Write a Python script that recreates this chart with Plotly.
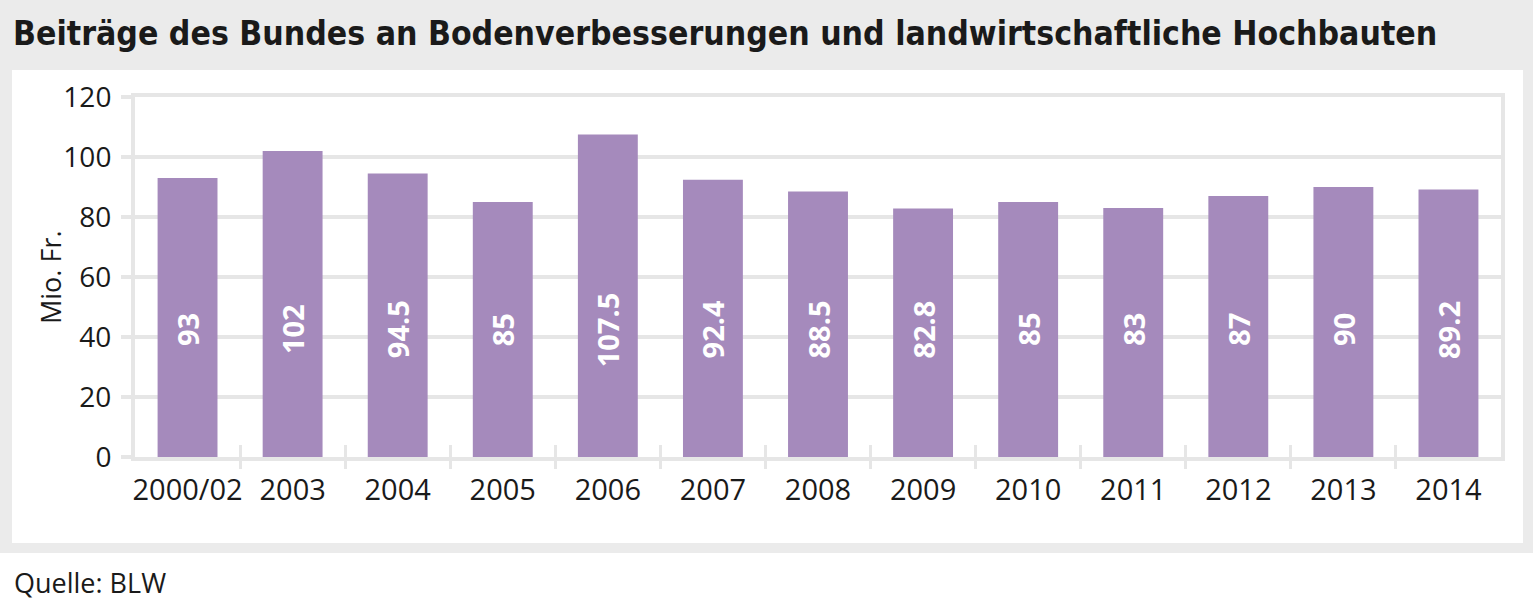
import plotly.graph_objects as go

# ---- data ----
categories = ["2000/02", "2003", "2004", "2005", "2006", "2007", "2008",
              "2009", "2010", "2011", "2012", "2013", "2014"]
values = [93, 102, 94.5, 85, 107.5, 92.4, 88.5, 82.8, 85, 83, 87, 90, 89.2]
value_labels = ["93", "102", "94.5", "85", "107.5", "92.4", "88.5",
                "82.8", "85", "83", "87", "90", "89.2"]
y_ticks = [0, 20, 40, 60, 80, 100, 120]

title_text = "Beiträge des Bundes an Bodenverbesserungen und landwirtschaftliche Hochbauten"
y_title = "Mio. Fr."
source_text = "Quelle: BLW"

# ---- style / layout constants ----
W, H = 1535, 608
PL, PR, PT, PB = 135, 1501, 97, 457  # plot area in pixels
BAR_COLOR = "#a58abc"
GRID = "#e6e6e6"
PANEL = "#ebebeb"
TXT = "#1a1a1a"
FONT = "Open Sans, Noto Sans, sans-serif"
TITLE_FONT = "DejaVu Sans Condensed, Liberation Sans Narrow, DejaVu Sans, sans-serif"
LABEL_Y = 42.5


def px_x(p):
    return (p - PL) / (PR - PL)


def px_y(p):
    return (PB - p) / (PB - PT)


fig = go.Figure()
fig.add_trace(go.Bar(x=categories, y=values, marker=dict(color=BAR_COLOR, line=dict(width=0)),
                     hoverinfo="skip", showlegend=False))
# helper traces so the boundary-tick axes are drawn
fig.add_trace(go.Scatter(x=[], y=[], xaxis="x2", yaxis="y", showlegend=False))
fig.add_trace(go.Scatter(x=[], y=[], xaxis="x3", yaxis="y", showlegend=False))

n = len(categories)
boundaries = [i + 0.5 for i in range(n - 1)]

annotations = []
for i, lab in enumerate(value_labels):
    annotations.append(dict(x=i, y=LABEL_Y, xref="x", yref="y", text=lab, textangle=-90,
                            showarrow=False, font=dict(family=FONT, size=29, color="white", weight="bold")))
annotations.append(dict(x=px_x(11), y=px_y(34), xref="paper", yref="paper", text="<b>" + title_text + "</b>",
                        xanchor="left", yanchor="middle", showarrow=False,
                        font=dict(family=TITLE_FONT, size=33.5, color=TXT)))
annotations.append(dict(x=px_x(50), y=px_y(277), xref="paper", yref="paper", text=y_title,
                        textangle=-90, xanchor="center", yanchor="middle", showarrow=False,
                        font=dict(family=FONT, size=27, color=TXT)))
annotations.append(dict(x=px_x(12), y=px_y(582), xref="paper", yref="paper", text=source_text,
                        xanchor="left", yanchor="middle", showarrow=False,
                        font=dict(family=FONT, size=27, color=TXT)))

shapes = [
    dict(type="rect", xref="paper", yref="paper", x0=px_x(0), x1=px_x(1533), y0=px_y(0), y1=px_y(553),
         fillcolor=PANEL, line=dict(width=0), layer="below"),
    dict(type="rect", xref="paper", yref="paper", x0=px_x(12), x1=px_x(1523), y0=px_y(70), y1=px_y(543),
         fillcolor="white", line=dict(width=0), layer="below"),
]

fig.update_layout(
    width=W, height=H,
    margin=dict(l=PL, r=W - PR, t=PT, b=H - PB, pad=0),
    paper_bgcolor="white", plot_bgcolor="rgba(0,0,0,0)",
    bargap=0.43,
    font=dict(family=FONT, color=TXT),
    xaxis=dict(type="category", showgrid=False, zeroline=False, ticks="",
               showline=True, linecolor=GRID, linewidth=4, mirror=True,
               tickfont=dict(family=FONT, size=29, color=TXT), ticklabelstandoff=4,
               range=[-0.5, n - 0.5]),
    xaxis2=dict(type="linear", overlaying="x", anchor="y", side="bottom", range=[-0.5, n - 0.5],
                tickvals=boundaries, ticks="outside", ticklen=11, tickwidth=3, tickcolor=GRID,
                showticklabels=False, showgrid=False, zeroline=False, showline=False),
    xaxis3=dict(type="linear", overlaying="x", anchor="y", side="bottom", range=[-0.5, n - 0.5],
                tickvals=boundaries, ticks="inside", ticklen=12, tickwidth=3, tickcolor=GRID,
                showticklabels=False, showgrid=False, zeroline=False, showline=False),
    yaxis=dict(range=[0, 120], tickvals=y_ticks, showgrid=True, gridcolor=GRID, gridwidth=4,
               zeroline=False, ticks="outside", ticklen=10, tickwidth=4, tickcolor=GRID,
               showline=True, linecolor=GRID, linewidth=4, mirror=True,
               tickfont=dict(family=FONT, size=28, color=TXT), ticklabelstandoff=4),
    annotations=annotations,
    shapes=shapes,
    showlegend=False,
)

fig.write_html("out.html", config={"displayModeBar": False},
               post_script="document.body.style.margin='0';document.body.style.overflow='hidden';")
